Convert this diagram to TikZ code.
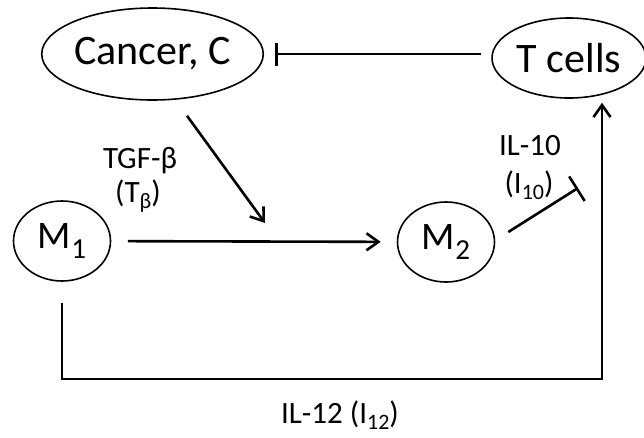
\documentclass[tikz,border=0pt]{standalone}
\usepackage{fontspec}
\setmainfont{Carlito}
\usetikzlibrary{arrows.meta,shapes.geometric}
\newcommand\smallsub[1]{\raisebox{-6pt}{\fontsize{22}{22}\selectfont #1}}
\newcommand\bigsub[1]{\raisebox{-10pt}{\fontsize{29}{29}\selectfont #1}}
\begin{document}
\begin{tikzpicture}[x=1pt,y=-1pt,
  cell/.style={draw, ellipse, line width=1.6pt, inner sep=0pt, font=\fontsize{42}{44}\selectfont},
  mcell/.style={cell, minimum width=97pt, minimum height=80pt, font=\fontsize{39}{41}\selectfont},
  lab/.style={inner sep=0pt, anchor=base, font=\fontsize{31}{33}\selectfont},
  conn/.style={line width=2.6pt},
  arr/.style={conn, -{Straight Barb[length=12pt,width=17pt,line width=2.6pt]}},
  inh/.style={conn, -{Bar[width=#1,line width=2.6pt]}}]
\useasboundingbox (0,0) rectangle (644,437);
\node[cell, minimum width=221pt, minimum height=92pt] (cancer) at (152.5,54) {Cancer, C};
\node[cell, minimum width=154pt, minimum height=80pt] (tcells) at (569,58) {T cells};
\node[mcell] (m1) at (62,241) {M\bigsub{1}};
\node[mcell] (m2) at (446,242) {M\bigsub{2}};
\coordinate (mid) at (265,223);
\coordinate (i10) at (578,188);
\coordinate (bl) at (62,379);
\coordinate (br) at (602,379);
\draw[inh=23pt, shorten <=10pt, shorten >=11pt] (tcells.west |- cancer.east) -- (cancer.east);
\draw[arr] ([shift={(34.5,15)}]cancer.south) -- (mid);
\draw[arr, shorten <=16.5pt, shorten >=16pt] (m1) -- (m2);
\draw[inh=29pt] ([shift={(13,-10)}]m2.east) -- (i10);
\draw[arr, shorten >=4pt] ([shift={(0,21)}]m1.south) -- (bl) -- (br) -- (br |- tcells.south);
\node[lab] (tgf) at (140,168) {TGF-β};
\node[lab] (tb) at (138,202) {(T\smallsub{β})};
\node[lab] (il10) at (530,155) {IL-10};
\node[lab] (i10l) at (529,193) {(I\smallsub{10})};
\node[lab] (il12) at (340,423) {IL-12 (I\smallsub{12})};
\end{tikzpicture}
\end{document}
